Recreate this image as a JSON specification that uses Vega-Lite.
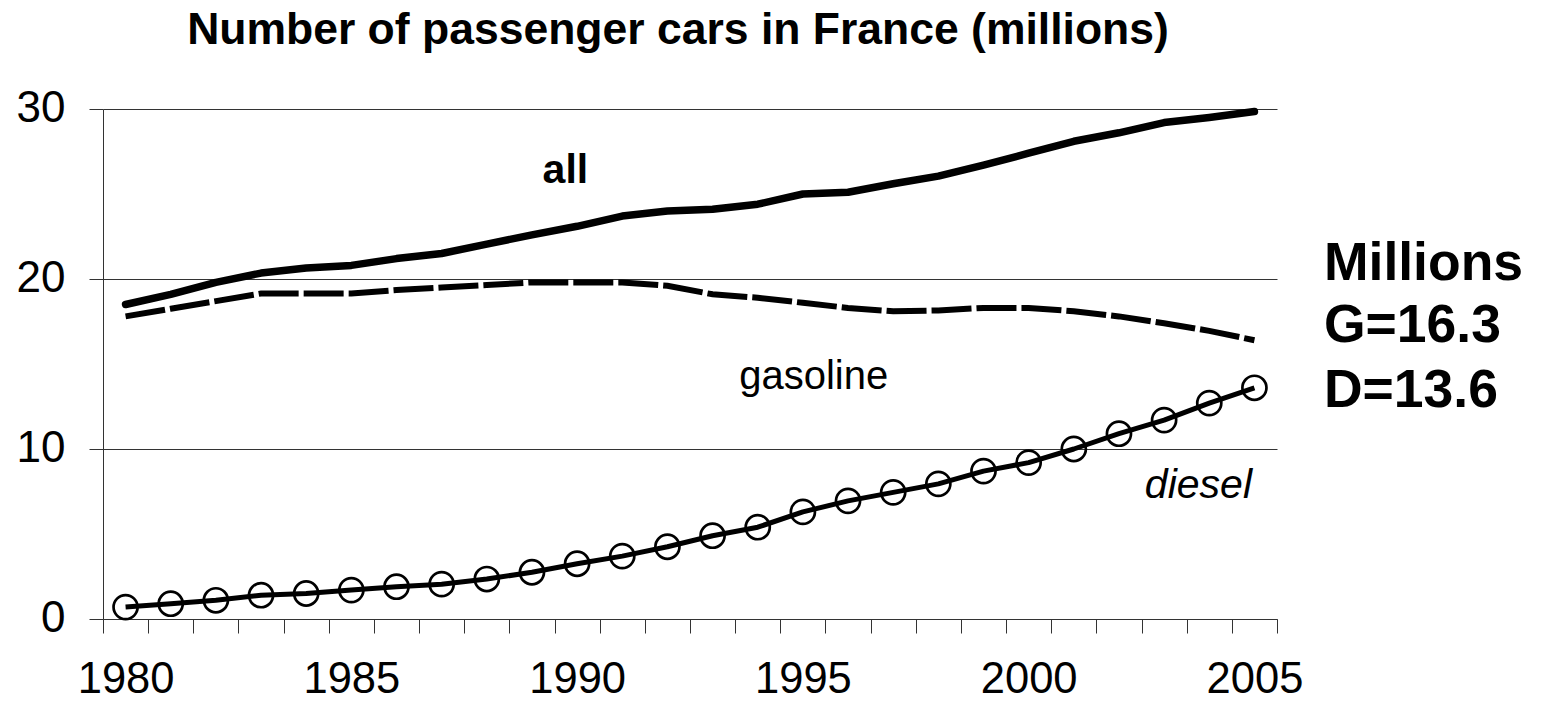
{
  "$schema": "https://vega.github.io/schema/vega-lite/v6.json",
  "width": 1174,
  "height": 510,
  "autosize": {"type": "none"},
  "padding": {"left": 103, "top": 109, "right": 264, "bottom": 87},
  "background": "white",
  "config": {
    "view": {"stroke": null},
    "font": "Liberation Sans",
    "axis": {"labelFont": "Liberation Sans", "labelColor": "black"}
  },
  "title": {
    "text": "Number of passenger cars in France (millions)",
    "fontSize": 44.5,
    "fontWeight": "bold",
    "font": "Liberation Sans",
    "color": "black",
    "anchor": "middle",
    "frame": "group",
    "baseline": "alphabetic",
    "offset": -2,
    "dx": -12
  },
  "datasets": {
    "cars": [
      {"year": 1980, "series": "all", "value": 18.5},
      {"year": 1981, "series": "all", "value": 19.1},
      {"year": 1982, "series": "all", "value": 19.8},
      {"year": 1983, "series": "all", "value": 20.35},
      {"year": 1984, "series": "all", "value": 20.65},
      {"year": 1985, "series": "all", "value": 20.8},
      {"year": 1986, "series": "all", "value": 21.2},
      {"year": 1987, "series": "all", "value": 21.5},
      {"year": 1988, "series": "all", "value": 22.05},
      {"year": 1989, "series": "all", "value": 22.6},
      {"year": 1990, "series": "all", "value": 23.1},
      {"year": 1991, "series": "all", "value": 23.7},
      {"year": 1992, "series": "all", "value": 24.0},
      {"year": 1993, "series": "all", "value": 24.1},
      {"year": 1994, "series": "all", "value": 24.4},
      {"year": 1995, "series": "all", "value": 25.0},
      {"year": 1996, "series": "all", "value": 25.1},
      {"year": 1997, "series": "all", "value": 25.6},
      {"year": 1998, "series": "all", "value": 26.05},
      {"year": 1999, "series": "all", "value": 26.7},
      {"year": 2000, "series": "all", "value": 27.4},
      {"year": 2001, "series": "all", "value": 28.1},
      {"year": 2002, "series": "all", "value": 28.6},
      {"year": 2003, "series": "all", "value": 29.2},
      {"year": 2004, "series": "all", "value": 29.5},
      {"year": 2005, "series": "all", "value": 29.85},
      {"year": 1980, "series": "gasoline", "value": 17.8},
      {"year": 1981, "series": "gasoline", "value": 18.25},
      {"year": 1982, "series": "gasoline", "value": 18.7},
      {"year": 1983, "series": "gasoline", "value": 19.15},
      {"year": 1984, "series": "gasoline", "value": 19.15},
      {"year": 1985, "series": "gasoline", "value": 19.15},
      {"year": 1986, "series": "gasoline", "value": 19.35},
      {"year": 1987, "series": "gasoline", "value": 19.5},
      {"year": 1988, "series": "gasoline", "value": 19.65},
      {"year": 1989, "series": "gasoline", "value": 19.8},
      {"year": 1990, "series": "gasoline", "value": 19.8},
      {"year": 1991, "series": "gasoline", "value": 19.8},
      {"year": 1992, "series": "gasoline", "value": 19.6},
      {"year": 1993, "series": "gasoline", "value": 19.1},
      {"year": 1994, "series": "gasoline", "value": 18.9},
      {"year": 1995, "series": "gasoline", "value": 18.6},
      {"year": 1996, "series": "gasoline", "value": 18.3},
      {"year": 1997, "series": "gasoline", "value": 18.1},
      {"year": 1998, "series": "gasoline", "value": 18.15},
      {"year": 1999, "series": "gasoline", "value": 18.3},
      {"year": 2000, "series": "gasoline", "value": 18.3},
      {"year": 2001, "series": "gasoline", "value": 18.1},
      {"year": 2002, "series": "gasoline", "value": 17.8},
      {"year": 2003, "series": "gasoline", "value": 17.4},
      {"year": 2004, "series": "gasoline", "value": 16.95},
      {"year": 2005, "series": "gasoline", "value": 16.4},
      {"year": 1980, "series": "diesel", "value": 0.7},
      {"year": 1981, "series": "diesel", "value": 0.9},
      {"year": 1982, "series": "diesel", "value": 1.1},
      {"year": 1983, "series": "diesel", "value": 1.4},
      {"year": 1984, "series": "diesel", "value": 1.5},
      {"year": 1985, "series": "diesel", "value": 1.7},
      {"year": 1986, "series": "diesel", "value": 1.9},
      {"year": 1987, "series": "diesel", "value": 2.05},
      {"year": 1988, "series": "diesel", "value": 2.35},
      {"year": 1989, "series": "diesel", "value": 2.75},
      {"year": 1990, "series": "diesel", "value": 3.25},
      {"year": 1991, "series": "diesel", "value": 3.7},
      {"year": 1992, "series": "diesel", "value": 4.25},
      {"year": 1993, "series": "diesel", "value": 4.9},
      {"year": 1994, "series": "diesel", "value": 5.4},
      {"year": 1995, "series": "diesel", "value": 6.3},
      {"year": 1996, "series": "diesel", "value": 6.95},
      {"year": 1997, "series": "diesel", "value": 7.45},
      {"year": 1998, "series": "diesel", "value": 7.95},
      {"year": 1999, "series": "diesel", "value": 8.7},
      {"year": 2000, "series": "diesel", "value": 9.2},
      {"year": 2001, "series": "diesel", "value": 10.0},
      {"year": 2002, "series": "diesel", "value": 10.9},
      {"year": 2003, "series": "diesel", "value": 11.7},
      {"year": 2004, "series": "diesel", "value": 12.7},
      {"year": 2005, "series": "diesel", "value": 13.6}
    ],
    "notes": [
      {"label": "all", "style": "bold", "year": 1989.74, "value": 25.65},
      {"label": "gasoline", "style": "plain", "year": 1995.24, "value": 13.55},
      {"label": "diesel", "style": "italic", "year": 2003.76, "value": 7.14},
      {"label": "Millions", "style": "big", "year": 2006.54, "value": 19.96},
      {"label": "G=16.3", "style": "big", "year": 2006.54, "value": 16.3},
      {"label": "D=13.6", "style": "big", "year": 2006.54, "value": 12.5}
    ]
  },
  "encoding": {
    "x": {
      "field": "year",
      "type": "quantitative",
      "scale": {"domain": [1979.5, 2005.5], "nice": false, "zero": false},
      "axis": {
        "title": null,
        "values": [1979.5, 1980.5, 1981.5, 1982.5, 1983.5, 1984.5, 1985.5, 1986.5, 1987.5, 1988.5, 1989.5, 1990.5, 1991.5, 1992.5, 1993.5, 1994.5, 1995.5, 1996.5, 1997.5, 1998.5, 1999.5, 2000.5, 2001.5, 2002.5, 2003.5, 2004.5, 2005.5],
        "labelExpr": "(datum.value + 0.5) % 5 == 0 ? toString(datum.value + 0.5) : ''",
        "labelOffset": 22.6,
        "labelFlush": false,
        "labelOverlap": false,
        "labelBound": false,
        "labelFontSize": 43.5,
        "labelPadding": 25,
        "labelColor": "black",
        "tickSize": 14,
        "tickColor": "#333333",
        "tickWidth": 1,
        "domainColor": "#333333",
        "domainWidth": 1,
        "grid": false
      }
    },
    "y": {
      "field": "value",
      "type": "quantitative",
      "scale": {"domain": [0, 30], "nice": false},
      "axis": {
        "title": null,
        "values": [0, 10, 20, 30],
        "labelFontSize": 44,
        "labelPadding": 24,
        "labelColor": "black",
        "labelOffset": -1,
        "tickSize": 14,
        "tickColor": "#333333",
        "tickWidth": 1,
        "domainColor": "#333333",
        "domainWidth": 1,
        "grid": true,
        "gridColor": "#333333",
        "gridWidth": 1
      }
    }
  },
  "layer": [
    {
      "data": {"name": "cars"},
      "transform": [{"filter": "datum.series == 'all'"}],
      "mark": {"type": "line", "color": "black", "strokeWidth": 7.5, "strokeCap": "round", "strokeJoin": "round"}
    },
    {
      "data": {"name": "cars"},
      "transform": [{"filter": "datum.series == 'gasoline'"}],
      "mark": {"type": "line", "color": "black", "strokeWidth": 6, "strokeDash": [40, 5], "strokeCap": "butt"}
    },
    {
      "data": {"name": "cars"},
      "transform": [{"filter": "datum.series == 'diesel'"}],
      "mark": {"type": "point", "shape": "circle", "filled": false, "stroke": "black", "strokeWidth": 2.7, "size": 580, "opacity": 1}
    },
    {
      "data": {"name": "cars"},
      "transform": [{"filter": "datum.series == 'diesel'"}],
      "mark": {"type": "line", "color": "black", "strokeWidth": 5, "strokeJoin": "round"}
    },
    {
      "data": {"name": "notes"},
      "transform": [{"filter": "datum.style == 'bold'"}],
      "mark": {"type": "text", "font": "Liberation Sans", "fontSize": 41, "fontWeight": "bold", "align": "center", "baseline": "alphabetic", "color": "black"},
      "encoding": {"text": {"field": "label"}}
    },
    {
      "data": {"name": "notes"},
      "transform": [{"filter": "datum.style == 'plain'"}],
      "mark": {"type": "text", "font": "Liberation Sans", "fontSize": 40, "align": "center", "baseline": "alphabetic", "color": "black"},
      "encoding": {"text": {"field": "label"}}
    },
    {
      "data": {"name": "notes"},
      "transform": [{"filter": "datum.style == 'italic'"}],
      "mark": {"type": "text", "font": "Liberation Sans", "fontSize": 41, "fontStyle": "italic", "align": "center", "baseline": "alphabetic", "color": "black"},
      "encoding": {"text": {"field": "label"}}
    },
    {
      "data": {"name": "notes"},
      "transform": [{"filter": "datum.style == 'big'"}],
      "mark": {"type": "text", "font": "Liberation Sans", "fontSize": 53.5, "fontWeight": "bold", "align": "left", "baseline": "alphabetic", "color": "black"},
      "encoding": {"text": {"field": "label"}}
    }
  ]
}
